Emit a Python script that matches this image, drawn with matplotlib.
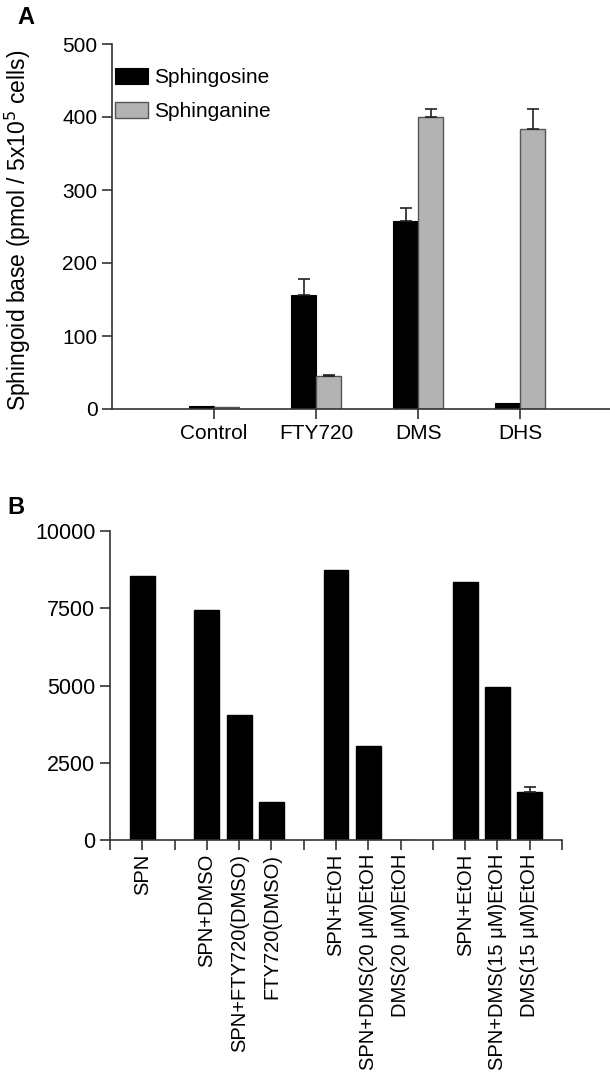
import matplotlib
matplotlib.use("Agg")
import matplotlib.pyplot as plt
import numpy as np

plt.rcParams["font.family"] = ["Liberation Sans", "DejaVu Sans"]

# Panel A data
groups_a = ["Control", "FTY720", "DMS", "DHS"]
sphingosine = [4, 156, 257, 8]
sphingosine_err = [0, 22, 18, 0]
sphinganine = [3, 45, 400, 383]
sphinganine_err = [0, 2, 11, 28]

# Panel B data
pos_b = [1, 3, 4, 5, 7, 8, 9, 11, 12, 13]
labels_b = ["SPN", "SPN+DMSO", "SPN+FTY720(DMSO)", "FTY720(DMSO)",
            "SPN+EtOH", "SPN+DMS(20 \u03bcM)EtOH", "DMS(20 \u03bcM)EtOH",
            "SPN+EtOH", "SPN+DMS(15 \u03bcM)EtOH", "DMS(15 \u03bcM)EtOH"]
values_b = [8550, 7430, 4050, 1230, 8750, 3050, 0, 8350, 4950, 1550]
err_b = [0, 0, 0, 0, 0, 0, 0, 0, 0, 160]

W, H = 610, 1079
fig = plt.figure(figsize=(W / 100, H / 100), dpi=100)

spine_col = "#333333"
err_style = dict(fmt="none", ecolor="#222222", elinewidth=1.2, capthick=1.2, capsize=4)


def up_errors(ax, xs, ys, errs):
    # one-sided (upper) error bars, only where there is an error
    for xi, yi, ei in zip(xs, ys, errs):
        if ei > 0:
            ax.errorbar(xi, yi, yerr=[[0], [ei]], **err_style)


# ---- Panel A ----
axa = fig.add_axes([112 / W, 1 - 409 / H, (612 - 112) / W, (409 - 44) / H])
x = np.arange(1, len(groups_a) + 1)
bw = 0.245
axa.bar(x - bw / 2, sphingosine, bw, color="black", edgecolor="black",
        linewidth=0.8, label="Sphingosine")
axa.bar(x + bw / 2, sphinganine, bw, color="#b3b3b3", edgecolor="#555555",
        linewidth=1.0, label="Sphinganine")
up_errors(axa, x - bw / 2, sphingosine, sphingosine_err)
up_errors(axa, x + bw / 2, sphinganine, sphinganine_err)
axa.set_xlim(0, 4.9)
axa.set_ylim(0, 500)
axa.set_xticks(x)
axa.set_xticklabels(groups_a)
axa.set_yticks([0, 100, 200, 300, 400, 500])
axa.tick_params(axis="both", labelsize=15, length=7, width=1.2,
                color=spine_col, direction="out")
for s in ["top", "right"]:
    axa.spines[s].set_visible(False)
for s in ["left", "bottom"]:
    axa.spines[s].set_color(spine_col)
    axa.spines[s].set_linewidth(1.2)
axa.set_ylabel("Sphingoid base (pmol / 5x10$^5$ cells)", fontsize=16.5)
axa.yaxis.set_label_coords(-0.158, 0.49)
axa.legend(loc="upper left", bbox_to_anchor=(0.005, 0.935), frameon=False,
           fontsize=15, handlelength=1.6, handleheight=0.85,
           handletextpad=0.3, labelspacing=0.7, borderaxespad=0, borderpad=0)
fig.text(26 / W, 1 - 17 / H, "A", fontsize=17, fontweight="bold",
         ha="center", va="center")

# ---- Panel B ----
axb = fig.add_axes([110 / W, 1 - 840 / H, (562 - 110) / W, (840 - 531) / H])
axb.bar(pos_b, values_b, 0.77, color="black", edgecolor="black")
up_errors(axb, pos_b, values_b, err_b)
axb.set_xlim(0, 14)
axb.set_ylim(0, 10000)
axb.set_xticks(range(0, 15))
tick_labels = [""] * 15
for p, lab in zip(pos_b, labels_b):
    tick_labels[p] = lab
axb.set_xticklabels(tick_labels, rotation=90, va="top", ha="center")
axb.set_yticks([0, 2500, 5000, 7500, 10000])
axb.tick_params(axis="y", labelsize=15.5)
axb.tick_params(axis="x", labelsize=14.5, pad=3)
axb.tick_params(axis="both", length=7, width=1.2, color=spine_col, direction="out")
for s in ["top", "right"]:
    axb.spines[s].set_visible(False)
for s in ["left", "bottom"]:
    axb.spines[s].set_color(spine_col)
    axb.spines[s].set_linewidth(1.2)
fig.text(16 / W, 1 - 507 / H, "B", fontsize=17, fontweight="bold",
         ha="center", va="center")

fig.savefig("out.png", dpi=100)
